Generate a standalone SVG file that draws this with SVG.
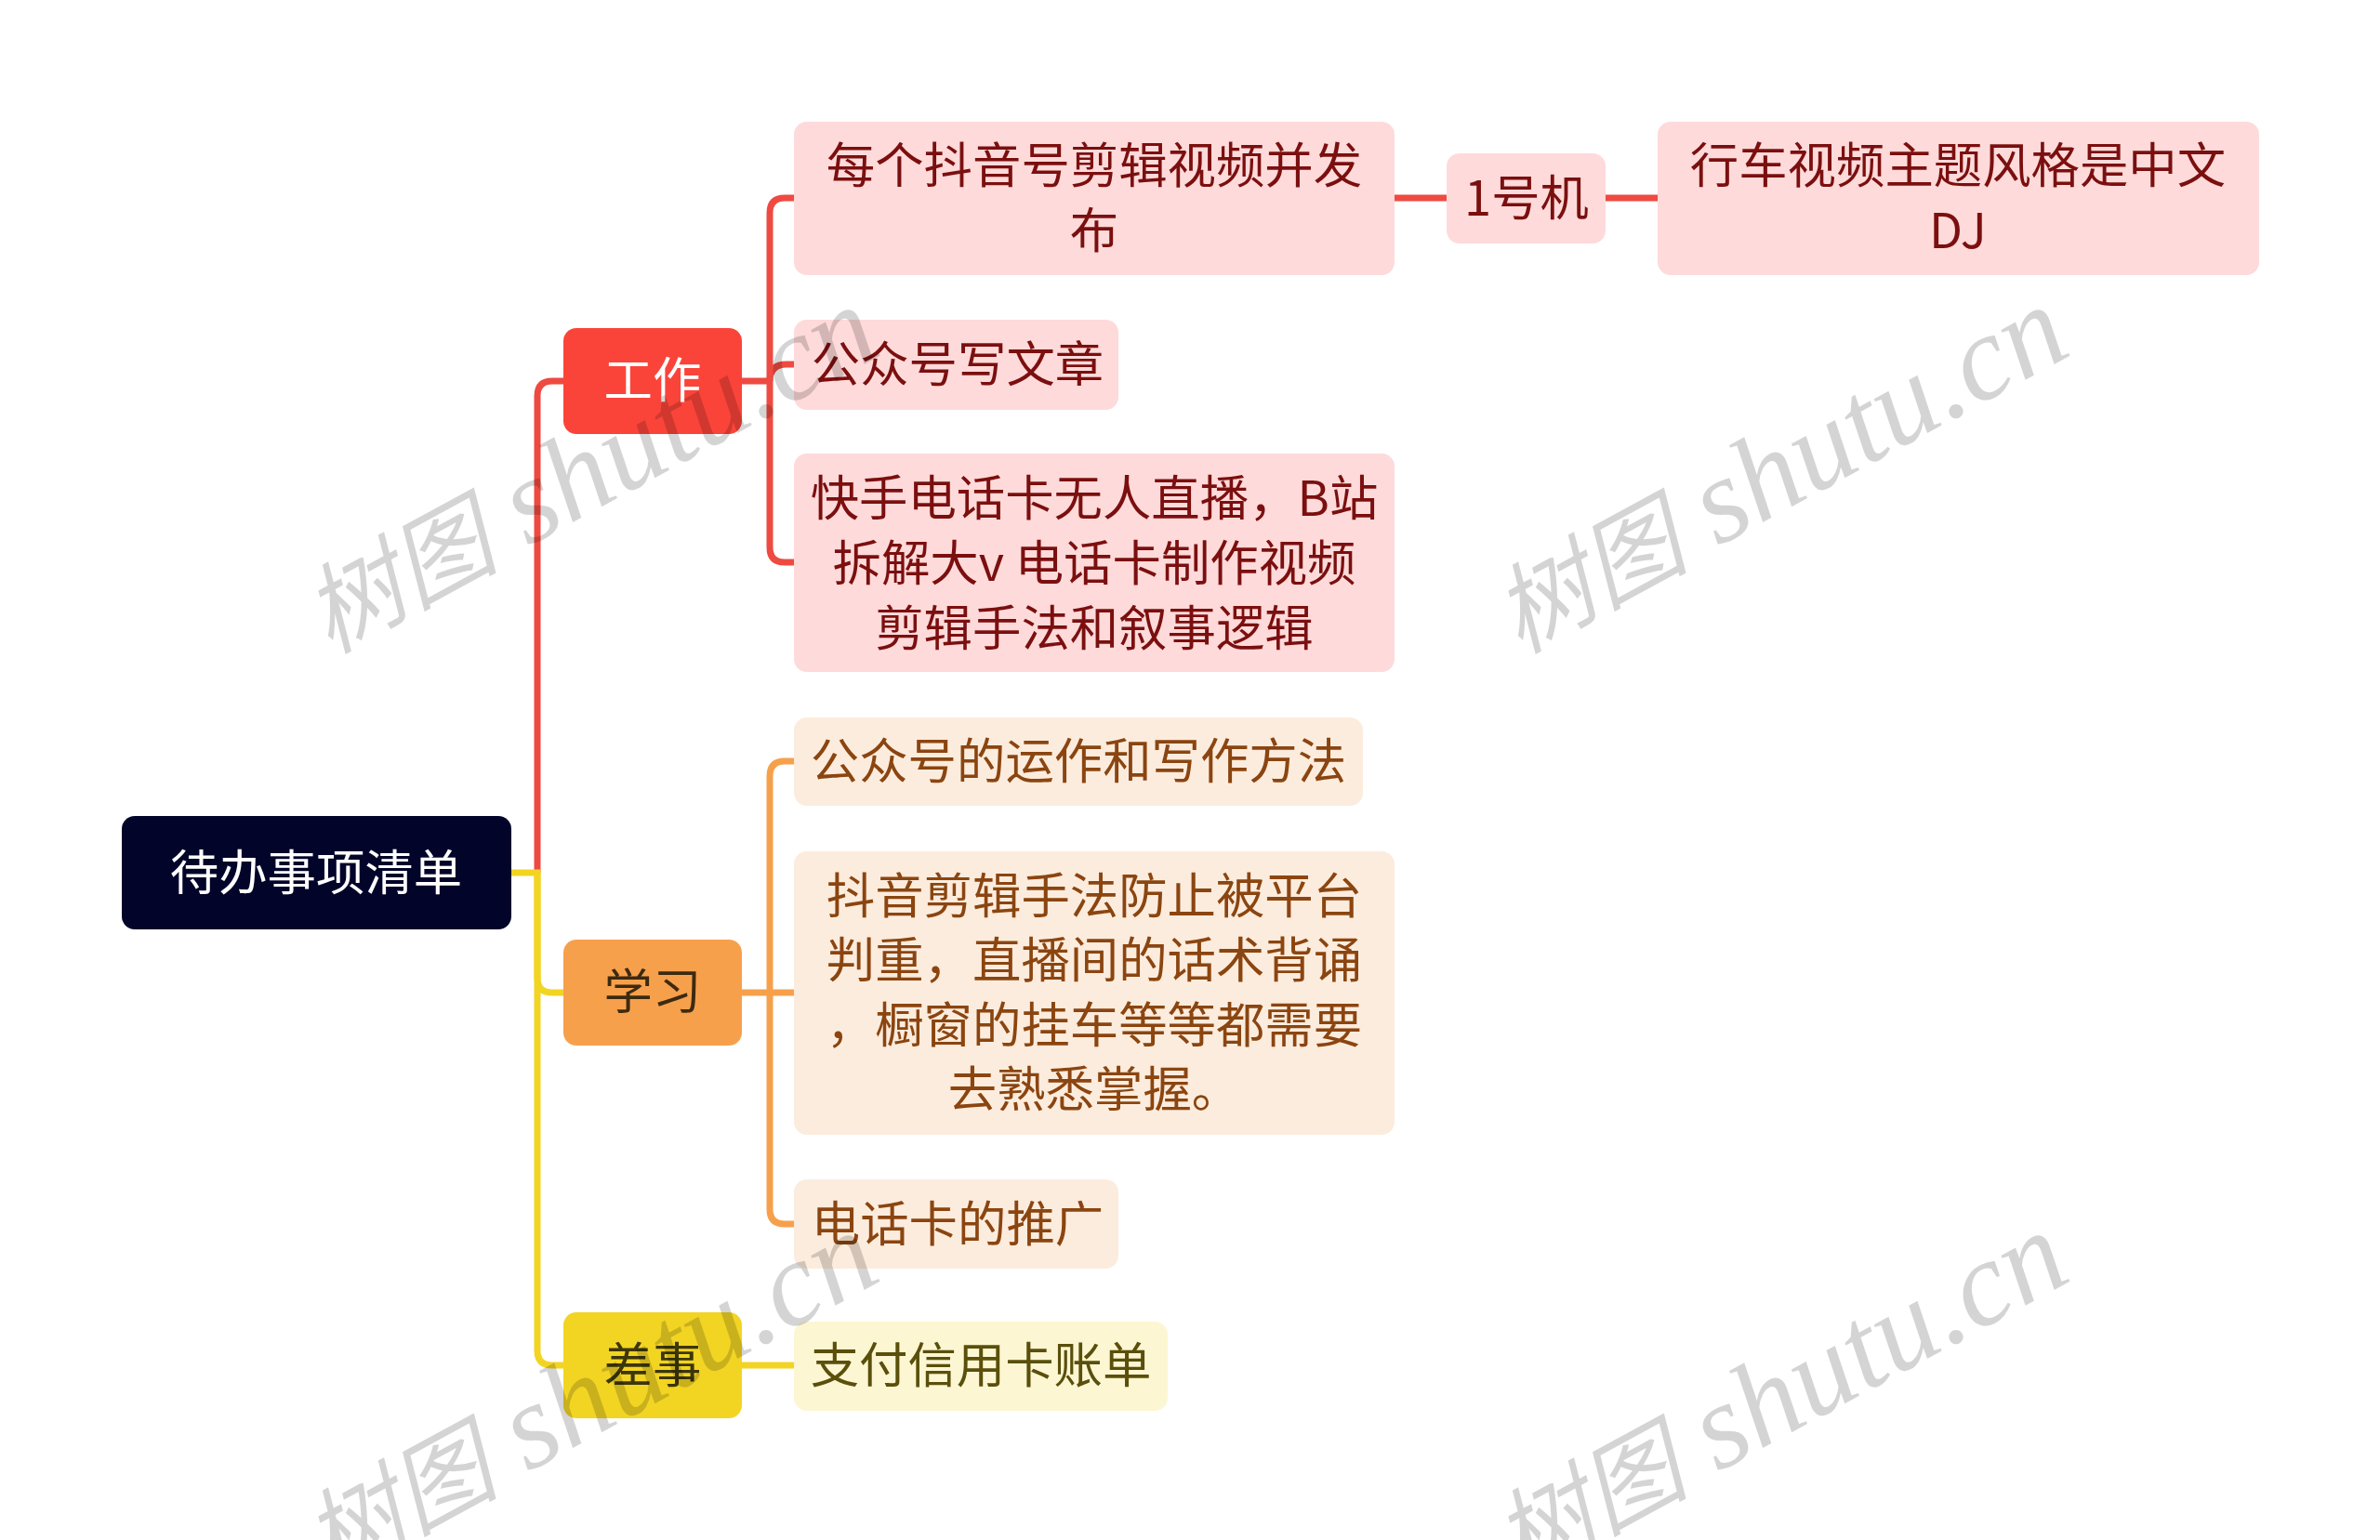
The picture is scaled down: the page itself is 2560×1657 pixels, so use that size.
<svg xmlns="http://www.w3.org/2000/svg" width="2560" height="1657" viewBox="0 0 2560 1657">
<style>
text{font-family:"Noto Sans CJK SC","Noto Sans",sans-serif;font-size:52.4px;text-anchor:middle}
.c{fill:none;stroke-width:7}
.r{stroke:#ee4a42}.o{stroke:#f7a04c}.y{stroke:#f2d423}
.pr{fill:#fedada}.pro{fill:#fcecdd}.pry{fill:#fcf6d3}
.tr{fill:#7b0f0f}.to{fill:#8b4510}.ty{fill:#5a4f0b}
.wm{font-family:"Liberation Serif","Noto Sans CJK SC",serif;font-style:italic;font-size:130px;fill:#000;fill-opacity:.17;text-anchor:middle}
.wc{font-size:105px}
</style>
<rect width="2560" height="1657" fill="#fff"/>
<g id="connectors">
<path class="c r" d="M578 939V426Q578 410 594 410H606"/>
<path class="c y" d="M550 939H578V1052Q578 1068 594 1068H606"/>
<path class="c y" d="M578 939V1453Q578 1469 594 1469H606"/>
<path class="c r" d="M798 410H828"/>
<path class="c r" d="M854 213H844Q828 213 828 229V589Q828 605 844 605H854"/>
<path class="c r" d="M828 410Q828 392 846 392H854"/>
<path class="c o" d="M798 1068H854"/>
<path class="c o" d="M854 819H844Q828 819 828 835V1301Q828 1317 844 1317H854"/>
<path class="c y" d="M798 1469H854"/>
<path class="c r" d="M1500 213H1556"/>
<path class="c r" d="M1727 213H1783"/>
</g>
<g id="root"><rect x="131" y="878" width="419" height="122" rx="14" fill="#02042a"/><text x="340" y="958" fill="#fff">待办事项清单</text></g>
<g id="work"><rect x="606" y="353" width="192" height="114" rx="14" fill="#fb4439"/><text x="702" y="428" fill="#fff">工作</text></g>
<g id="study"><rect x="606" y="1011" width="192" height="114" rx="14" fill="#f7a04c"/><text x="702" y="1086" fill="#3d2a10">学习</text></g>
<g id="errand"><rect x="606" y="1412" width="192" height="114" rx="14" fill="#f2d423"/><text x="702" y="1488" fill="#3d3608">差事</text></g>
<g id="n1"><rect class="pr" x="854" y="131" width="646" height="165" rx="14"/><text class="tr" x="1177" y="197">每个抖音号剪辑视频并发</text><text class="tr" x="1177" y="267">布</text></g>
<g id="n2"><rect class="pr" x="1556" y="165" width="171" height="97" rx="14"/><text class="tr" x="1642" y="232">1号机</text></g>
<g id="n3"><rect class="pr" x="1783" y="131" width="647" height="165" rx="14"/><text class="tr" x="2106" y="197">行车视频主题风格是中文</text><text class="tr" x="2106" y="267">DJ</text></g>
<g id="n4"><rect class="pr" x="854" y="344" width="349" height="97" rx="14"/><text class="tr" x="1030" y="411">公众号写文章</text></g>
<g id="n5"><rect class="pr" x="854" y="488" width="646" height="235" rx="14"/><text class="tr" x="1177" y="555">快手电话卡无人直播，B站</text><text class="tr" x="1177" y="625">拆解大v 电话卡制作视频</text><text class="tr" x="1177" y="695">剪辑手法和叙事逻辑</text></g>
<g id="s1"><rect class="pro" x="854" y="772" width="612" height="95" rx="14"/><text class="to" x="1160" y="838">公众号的运作和写作方法</text></g>
<g id="s2"><rect class="pro" x="854" y="916" width="646" height="305" rx="14"/><text class="to" x="1177" y="983">抖音剪辑手法防止被平台</text><text class="to" x="1177" y="1052">判重，直播间的话术背诵</text><text class="to" x="1177" y="1122">，橱窗的挂车等等都需要</text><text class="to" x="1177" y="1191">去熟悉掌握。</text></g>
<g id="s3"><rect class="pro" x="854" y="1269" width="349" height="96" rx="14"/><text class="to" x="1030" y="1336">电话卡的推广</text></g>
<g id="e1"><rect class="pry" x="854" y="1422" width="402" height="96" rx="14"/><text class="ty" x="1055" y="1488">支付信用卡账单</text></g>
<g id="watermarks">
<text class="wm" transform="translate(653 542) rotate(-28.5)"><tspan class="wc">树图</tspan> shutu.cn</text>
<text class="wm" transform="translate(1933 542) rotate(-28.5)"><tspan class="wc">树图</tspan> shutu.cn</text>
<text class="wm" transform="translate(653 1538) rotate(-28.5)"><tspan class="wc">树图</tspan> shutu.cn</text>
<text class="wm" transform="translate(1933 1538) rotate(-28.5)"><tspan class="wc">树图</tspan> shutu.cn</text>
</g>
</svg>
